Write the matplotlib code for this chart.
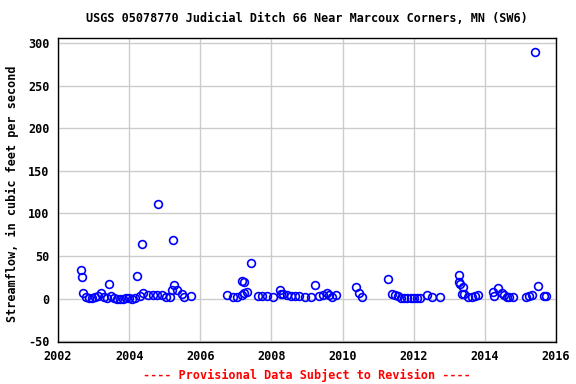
import matplotlib
matplotlib.use("Agg")
import matplotlib.pyplot as plt

# Decimal-year dates and streamflow values (cfs)
dates = [
    2002.65, 2002.67, 2002.70, 2002.78, 2002.87, 2002.95, 2003.05, 2003.13, 2003.21,
    2003.30, 2003.38, 2003.44, 2003.50, 2003.58, 2003.67, 2003.75, 2003.84, 2003.92,
    2004.00, 2004.08, 2004.16, 2004.23, 2004.30, 2004.36, 2004.40, 2004.54, 2004.68,
    2004.79, 2004.81, 2004.91, 2005.04, 2005.15, 2005.21, 2005.24, 2005.26, 2005.34,
    2005.48, 2005.55, 2005.74,
    2006.76, 2006.91, 2007.04, 2007.16, 2007.17, 2007.23, 2007.24, 2007.30, 2007.43,
    2007.63, 2007.74, 2007.87, 2008.04, 2008.24, 2008.26, 2008.33, 2008.43, 2008.55,
    2008.66, 2008.78, 2008.94, 2009.11, 2009.23, 2009.35, 2009.44, 2009.57, 2009.63,
    2009.69, 2009.82, 2010.38, 2010.47, 2010.56,
    2011.29, 2011.38, 2011.47, 2011.55, 2011.63, 2011.73, 2011.82, 2011.92, 2012.01,
    2012.10, 2012.18, 2012.37, 2012.52, 2012.74,
    2013.28, 2013.28, 2013.30, 2013.38, 2013.35, 2013.41, 2013.53, 2013.63, 2013.71,
    2013.81, 2014.24, 2014.26, 2014.38, 2014.47, 2014.54, 2014.61, 2014.69, 2014.78,
    2015.16, 2015.24, 2015.33, 2015.41, 2015.50, 2015.67, 2015.73,
]
flows = [
    34, 25, 6, 2, 1, 1, 2, 3, 7,
    2, 1, 17, 3, 1, 0, 0, 0, 1,
    1, 0, 1, 27, 3, 64, 6, 4, 4,
    4, 111, 4, 2, 2, 10, 69, 16, 10,
    5, 2, 3,
    4, 2, 2, 21, 4, 19, 6, 8, 42,
    3, 3, 3, 2, 10, 5, 5, 4, 3,
    3, 3, 2, 2, 16, 3, 4, 7, 4,
    2, 4, 14, 7, 2,
    23, 5, 4, 3, 1, 1, 1, 1, 1,
    1, 1, 4, 2, 2,
    28, 20, 17, 14, 5, 5, 2, 2, 3,
    4, 8, 3, 12, 6, 4, 2, 2, 2,
    2, 3, 4, 290, 15, 3, 3,
]

title = "USGS 05078770 Judicial Ditch 66 Near Marcoux Corners, MN (SW6)"
ylabel = "Streamflow, in cubic feet per second"
footer = "---- Provisional Data Subject to Revision ----"
xticks = [2002, 2004, 2006, 2008, 2010, 2012, 2014, 2016]
yticks = [-50, 0, 50, 100, 150, 200, 250, 300]

font = dict(family="DejaVu Sans Mono", weight="bold", size=8.5)

fig = plt.figure(figsize=(5.76, 3.84), dpi=100)
ax = fig.add_axes([58/576, 42/384, 498/576, 304/384])

ax.plot(dates, flows, linestyle="none", marker="o", markersize=5.6,
        markerfacecolor="none", markeredgecolor="#0000ff", markeredgewidth=1.2)

ax.set_xlim(2002, 2016)
ax.set_ylim(-51, 306)
ax.set_xticks(xticks)
ax.set_yticks(yticks)
ax.set_xticklabels([str(t) for t in xticks], **font)
ax.set_yticklabels([str(t) for t in yticks], **font)
ax.tick_params(length=0, pad=6)
ax.grid(True, color="#cccccc", linewidth=1.0)
ax.set_axisbelow(True)
for s in ax.spines.values():
    s.set_color("black")
    s.set_linewidth(1.0)

cx = (58 + 556) / 2 / 576
fig.text(cx, 1 - 19/384, title, ha="center", va="center", **font)
fig.text(12/576, 190/384, ylabel, rotation=90, ha="center", va="center", **font)
fig.text(cx, 1 - 375/384, footer, ha="center", va="center", color="red", **font)

fig.savefig("out.png", dpi=100)
